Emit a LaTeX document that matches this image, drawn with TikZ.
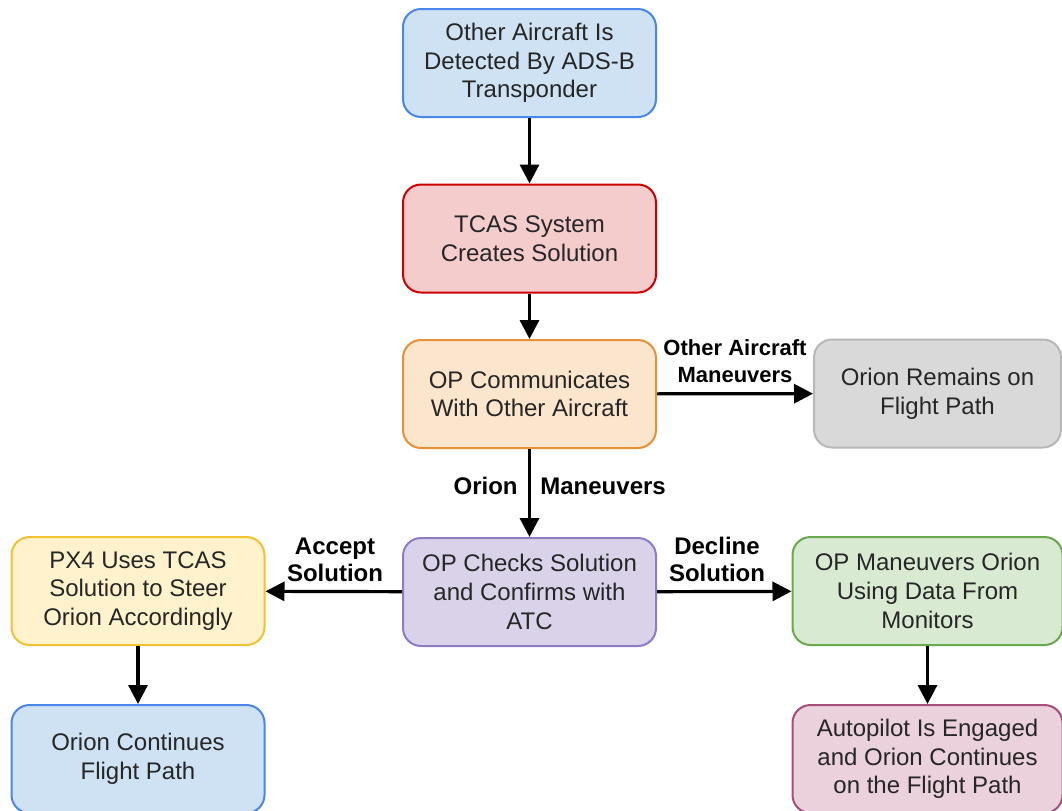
\documentclass[tikz,border=0pt]{standalone}
\usepackage{fontspec}
\setmainfont{Liberation Sans}
\usetikzlibrary{arrows.meta}

\definecolor{blueFill}{HTML}{CFE2F3}
\definecolor{blueLine}{HTML}{4A86E8}
\definecolor{redFill}{HTML}{F4CCCC}
\definecolor{redLine}{HTML}{CC0000}
\definecolor{orangeFill}{HTML}{FCE5CD}
\definecolor{orangeLine}{HTML}{E69138}
\definecolor{grayFill}{HTML}{D9D9D9}
\definecolor{grayLine}{HTML}{B7B7B7}
\definecolor{purpleFill}{HTML}{D9D2E9}
\definecolor{purpleLine}{HTML}{8E7CC3}
\definecolor{yellowFill}{HTML}{FFF2CC}
\definecolor{yellowLine}{HTML}{F1C232}
\definecolor{greenFill}{HTML}{D9EAD3}
\definecolor{greenLine}{HTML}{6AA84F}
\definecolor{pinkFill}{HTML}{EAD1DC}
\definecolor{pinkLine}{HTML}{A64D79}

\begin{document}
\begin{tikzpicture}[x=0.5pt, y=-0.5pt,
    box/.style={draw, line width=1pt, rounded corners=9pt, align=center,
        minimum width=126.5pt, minimum height=54pt, inner sep=2pt,
        font=\fontsize{12}{14.3}\selectfont, text=black!85},
    widebox/.style={box, minimum width=135pt},
    flow/.style={line width=1.6pt, -{Triangle[width=9.5pt,length=9.5pt]}},
    tag/.style={font=\fontsize{12}{13.5}\selectfont\bfseries, align=center, inner sep=0pt}]

    \useasboundingbox (0,0) rectangle (1062,810);

    % Nodes
    \node[box, fill=blueFill, draw=blueLine] at (529.5,63) (Detect) {Other Aircraft Is\\Detected By ADS-B\\Transponder};
    \node[box, fill=redFill, draw=redLine] at (529.5,238.5) (Tcas) {TCAS System\\Creates Solution};
    \node[box, fill=orangeFill, draw=orangeLine] at (529.5,394) (Comm) {OP Communicates\\With Other Aircraft};
    \node[box, fill=grayFill, draw=grayLine, minimum width=123.5pt] at (937.5,393.5) (Remain) {Orion Remains on\\Flight Path};
    \node[box, fill=purpleFill, draw=purpleLine] at (529.5,592) (Check) {OP Checks Solution\\and Confirms with\\ATC};
    \node[box, fill=yellowFill, draw=yellowLine] at (138,591) (Px4) {PX4 Uses TCAS\\Solution to Steer\\Orion Accordingly};
    \node[widebox, fill=greenFill, draw=greenLine] at (927.5,591) (Manual) {OP Maneuvers Orion\\Using Data From\\Monitors};
    \node[box, fill=blueFill, draw=blueLine] at (138,759) (Continue) {Orion Continues\\Flight Path};
    \node[widebox, fill=pinkFill, draw=pinkLine] at (927.5,759) (Auto) {Autopilot Is Engaged\\and Orion Continues\\on the Flight Path};

    % Lines
    \draw[flow] (Detect) -- (Tcas);
    \draw[flow] (Tcas) -- (Comm);
    \draw[flow] (Comm) -- (Remain);
    \draw[flow] (Comm) -- (Check);
    \draw[flow] (Check) -- (Px4);
    \draw[flow] (Check) -- (Manual);
    \draw[flow] (Px4) -- (Continue);
    \draw[flow] (Manual) -- (Auto);

    % Labels
    \node[tag, font=\fontsize{11}{13.5}\selectfont\bfseries] at (735,361) (LblOther) {Other Aircraft\\Maneuvers};
    \node[tag, anchor=east] at (518,486) (LblOrion) {Orion};
    \node[tag, anchor=west] at (540,486) (LblMan) {Maneuvers};
    \node[tag] at (335,559.5) (LblAccept) {Accept\\Solution};
    \node[tag] at (717,559) (LblDecline) {Decline\\Solution};

\end{tikzpicture}
\end{document}
